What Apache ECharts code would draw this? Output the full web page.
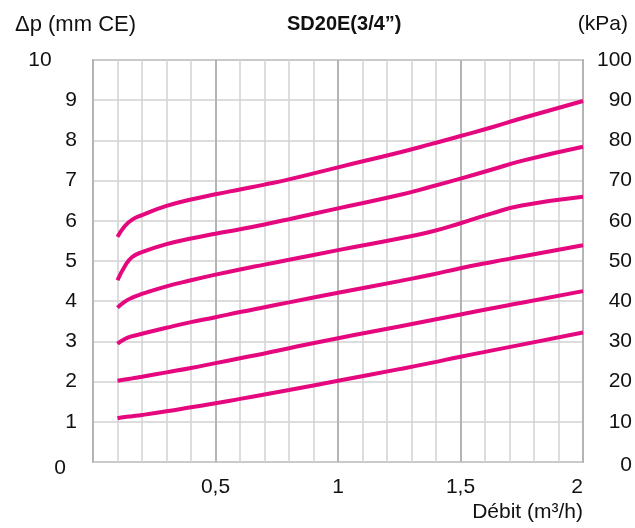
<!DOCTYPE html>
<html>
<head>
<meta charset="utf-8">
<script src="https://cdn.jsdelivr.net/npm/echarts@6/dist/echarts.min.js"></script>
<style>
html,body{margin:0;padding:0;background:#fff;}
#c{width:635px;height:528px;}
</style>
</head>
<body>
<div id="c"></div>
<script>
// Débit (m3/h) sample positions
var flow = [0.1, 0.13, 0.16, 0.2, 0.3, 0.4, 0.5, 0.6, 0.7, 0.8, 1.0, 1.25, 1.375, 1.5, 1.625, 1.75, 2.0];
// Pressure drop curves (left axis units)
var curve1 = [5.60, 5.87, 6.03, 6.14, 6.37, 6.53, 6.66, 6.78, 6.90, 7.03, 7.33, 7.70, 7.90, 8.11, 8.32, 8.55, 8.98];
var curve2 = [4.52, 4.87, 5.10, 5.22, 5.42, 5.56, 5.68, 5.79, 5.91, 6.04, 6.31, 6.64, 6.84, 7.05, 7.27, 7.49, 7.84];
var curve3 = [3.84, 3.99, 4.09, 4.18, 4.37, 4.52, 4.66, 4.79, 4.91, 5.03, 5.27, 5.56, 5.72, 5.94, 6.18, 6.38, 6.60];
var curve4 = [2.94, 3.06, 3.13, 3.19, 3.34, 3.48, 3.60, 3.73, 3.85, 3.97, 4.21, 4.50, 4.65, 4.82, 4.97, 5.11, 5.39];
var curve5 = [2.02, 2.05, 2.08, 2.12, 2.23, 2.34, 2.46, 2.58, 2.70, 2.83, 3.08, 3.37, 3.52, 3.67, 3.82, 3.96, 4.25];
var curve6 = [1.09, 1.12, 1.14, 1.17, 1.26, 1.36, 1.46, 1.57, 1.68, 1.79, 2.02, 2.31, 2.46, 2.62, 2.77, 2.92, 3.22];
var curves = [curve1, curve2, curve3, curve4, curve5, curve6];
// Tick labels
var xTickLabels = {0.5: '0,5', 1: '1', 1.5: '1,5', 2: '2'};
var titleText = 'SD20E(3/4\u201d)';
var leftUnit = '\u0394p (mm CE)';
var rightUnit = '(kPa)';
var xName = 'D\u00e9bit (m\u00b3/h)';

var FONT = 'Liberation Sans';
var chart = echarts.init(document.getElementById('c'));

var series = curves.map(function (c) {
  return {
    type: 'line',
    xAxisIndex: 0,
    yAxisIndex: 0,
    smooth: 0.5,
    showSymbol: false,
    symbol: 'none',
    lineStyle: {color: '#e5077e', width: 4},
    data: flow.map(function (x, k) { return [x, c[k]]; }),
    z: 5
  };
});

chart.setOption({
  animation: false,
  backgroundColor: '#fff',
  textStyle: {fontFamily: FONT},
  title: [
    {text: titleText, left: 282, top: 9, textStyle: {fontFamily: FONT, fontSize: 20, fontWeight: 'bold', color: '#111'}},
    {text: leftUnit, left: 10, top: 9, textStyle: {fontFamily: FONT, fontSize: 22, fontWeight: 'normal', color: '#111'}},
    {text: rightUnit, right: 2, top: 9, textStyle: {fontFamily: FONT, fontSize: 21, fontWeight: 'normal', color: '#111'}}
  ],
  grid: {left: 93, right: 51, top: 60, bottom: 66, show: true, borderColor: '#b4b4b4', borderWidth: 2, backgroundColor: 'transparent'},
  xAxis: [
    {
      type: 'value', min: 0, max: 2, interval: 0.1,
      axisLine: {show: false}, axisTick: {show: false}, axisLabel: {show: false},
      splitLine: {show: true, lineStyle: {color: '#d2d2d2', width: 1.5}}
    },
    {
      type: 'value', min: 0, max: 2, interval: 0.5, position: 'bottom',
      name: xName, nameLocation: 'end', nameGap: 0,
      nameTextStyle: {fontFamily: FONT, fontSize: 21, color: '#111', align: 'right', verticalAlign: 'top', padding: [40, 0, 0, 0]},
      axisLine: {show: false}, axisTick: {show: false},
      axisLabel: {
        showMinLabel: false, margin: 15, fontFamily: FONT, fontSize: 21, color: '#111', alignMaxLabel: 'right',
        formatter: function (v) { var k = Math.round(v * 10) / 10; return xTickLabels[k] || ''; }
      },
      splitLine: {show: true, lineStyle: {color: '#b4b4b4', width: 2}}
    }
  ],
  yAxis: [
    {
      type: 'value', min: 0, max: 10, interval: 1, position: 'left',
      axisLine: {show: false}, axisTick: {show: false},
      axisLabel: {
        margin: 22, align: 'center', fontFamily: FONT, fontSize: 21, color: '#111',
        formatter: function (v) {
          if (v === 10) return '{a|10}';
          if (v === 0) return '{z|0}';
          return '{n|' + v + '}';
        },
        rich: {
          a: {fontFamily: FONT, fontSize: 21, color: '#111', padding: [0, 62, 0, 0]},
          z: {fontFamily: FONT, fontSize: 21, color: '#111', padding: [12, 22, 0, 0]},
          n: {fontFamily: FONT, fontSize: 21, color: '#111'}
        }
      },
      splitLine: {show: true, lineStyle: {color: '#d2d2d2', width: 1.5}}
    },
    {
      type: 'value', min: 0, max: 100, interval: 10, position: 'right',
      axisLine: {show: false}, axisTick: {show: false},
      axisLabel: {
        margin: 49, align: 'right', fontFamily: FONT, fontSize: 21, color: '#111',
        formatter: function (v) { return v === 0 ? '{z|0}' : '{n|' + v + '}'; },
        rich: {
          z: {fontFamily: FONT, fontSize: 21, color: '#111', padding: [6, 0, 0, 0]},
          n: {fontFamily: FONT, fontSize: 21, color: '#111'}
        }
      },
      splitLine: {show: false}
    }
  ],
  series: series
});
</script>
</body>
</html>
